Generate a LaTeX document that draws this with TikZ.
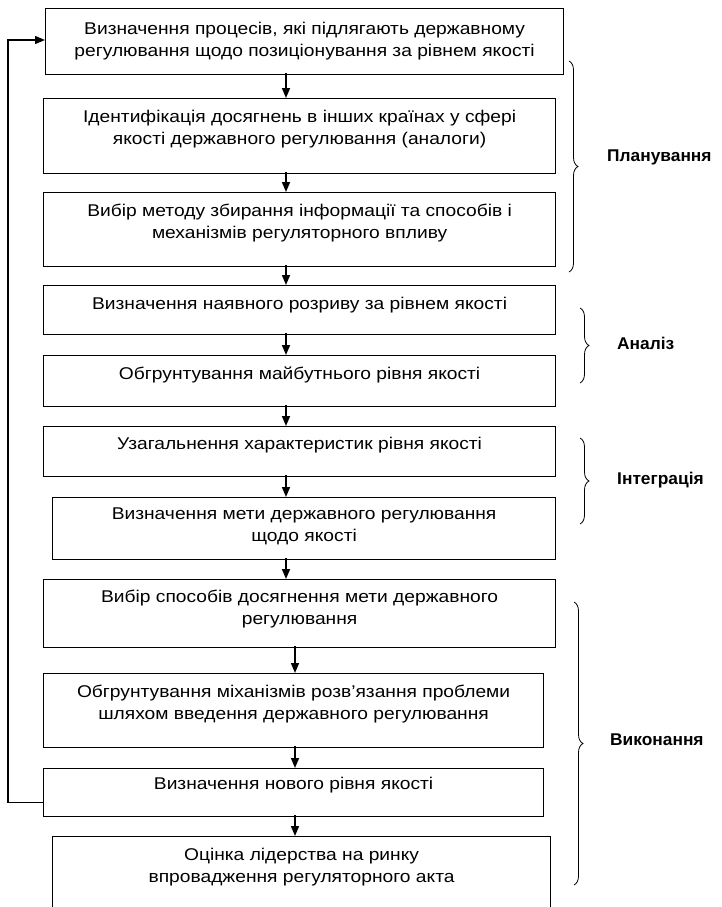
\documentclass[tikz,border=0pt]{standalone}
\usepackage{fontspec}
\setmainfont{Liberation Sans}
\newfontfamily\boxfont[FakeStretch=1.13]{Liberation Sans}
\newfontfamily\phasefont[FakeStretch=1.02]{Liberation Sans}
\usetikzlibrary{arrows.meta,decorations.pathreplacing}

\begin{document}
\begin{tikzpicture}[x=1pt,y=-1pt,
            box/.style={draw, line width=1.2pt, anchor=north west, align=center, inner sep=0pt, text depth=4pt, font=\boxfont\fontsize{17}{21.7}\selectfont},
            arr/.style={line width=1.6pt, -{Triangle[length=10pt,width=8pt]}},
            brc/.style={decorate, decoration={brace, amplitude=9pt}, line width=0.8pt},
            phase/.style={anchor=west, inner xsep=0pt, font=\phasefont\bfseries\fontsize{17}{20}\selectfont}]
            \path[use as bounding box, clip] (0,0) rectangle (721,907);
            \node[box, minimum width=518pt, minimum height=66pt] (b1) at (45,8) {Визначення процесів, які підлягають державному\\регулювання щодо позиціонування за рівнем якості};
            \node[box, minimum width=512pt, minimum height=75pt, text depth=17pt] (b2) at (43,98) {Ідентифікація досягнень в інших країнах у сфері\\якості державного регулювання (аналоги)};
            \node[box, minimum width=512pt, minimum height=74pt, text depth=17pt] (b3) at (43,192) {Вибір методу збирання інформації та способів і\\механізмів регуляторного впливу};
            \node[box, minimum width=512pt, minimum height=49pt, text depth=13pt] (b4) at (43,285) {Визначення наявного розриву за рівнем якості};
            \node[box, minimum width=512pt, minimum height=51pt, text depth=15pt] (b5) at (43,355) {Обгрунтування майбутнього рівня якості};
            \node[box, minimum width=512pt, minimum height=50pt, text depth=16pt] (b6) at (43,426) {Узагальнення характеристик рівня якості};
            \node[box, minimum width=503pt, minimum height=62pt, text depth=8pt] (b7) at (52,497) {Визначення мети державного регулювання\\щодо якості};
            \node[box, minimum width=512pt, minimum height=68pt, text depth=12pt] (b8) at (43,579) {Вибір способів досягнення мети державного\\регулювання};
            \node[box, minimum width=500pt, minimum height=74pt, text depth=17pt] (b9) at (43,673) {Обгрунтування міханізмів розв’язання проблеми\\шляхом введення державного регулювання};
            \node[box, minimum width=500pt, minimum height=48pt, text depth=18pt] (b10) at (43,768) {Визначення нового рівня якості};
            \node[box, minimum width=498pt, minimum height=76pt, text depth=18pt] (b11) at (52,836) {Оцінка лідерства на ринку\\впровадження регуляторного акта};
            \coordinate (ax) at (286,0);
            \coordinate (bx) at (295,0);
            \coordinate (fb) at (8,40);
            \foreach \a/\b in {b1/b2,b2/b3,b3/b4,b4/b5,b5/b6,b6/b7,b7/b8}
                \draw[arr] ([yshift=2pt]\a.south -| ax) -- (\b.north -| ax);
            \foreach \a/\b in {b8/b9,b9/b10,b10/b11}
                \draw[arr] ([yshift=2pt]\a.south -| bx) -- (\b.north -| bx);
            \draw[arr, line width=1.3pt] ([yshift=-10pt]b10.west) -| (fb) -- (fb -| b1.west);
            \draw[brc] (569,61) -- (569,272);
            \node[phase] (pl) at (607,157) {Планування};
            \draw[brc] (580,308) -- (580,383);
            \node[phase] (an) at (617,343) {Аналіз};
            \draw[brc] (580,438) -- (580,524);
            \node[phase] (ig) at (617,480) {Інтеграція};
            \draw[brc] (574,602) -- (574,885);
            \node[phase] (vk) at (610,740) {Виконання};
        \end{tikzpicture}
\end{document}
